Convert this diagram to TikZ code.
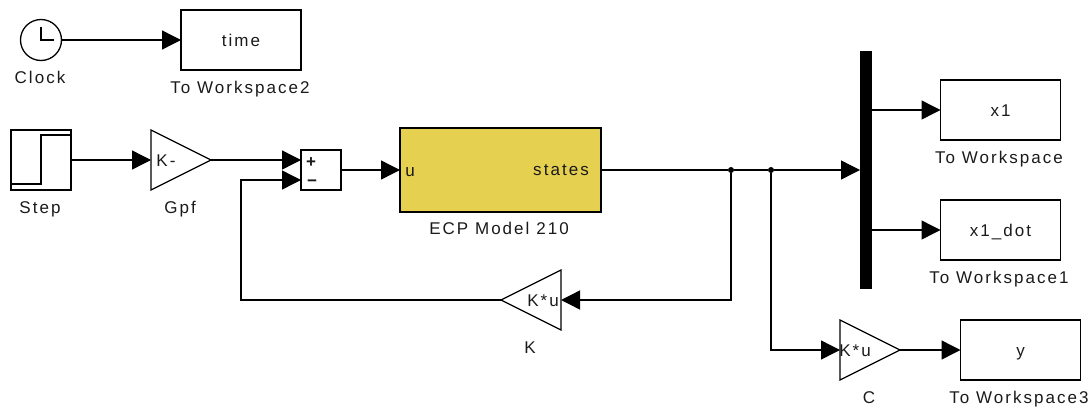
\documentclass[tikz,border=0pt]{standalone}
\usepackage{fontspec}
\setmainfont[LetterSpace=12]{Liberation Sans}
\usetikzlibrary{arrows.meta}
\definecolor{ecpgold}{HTML}{E6D04F}
\definecolor{ink}{HTML}{1A1A1A}
\tikzset{
  x=1pt,y=-1pt,
  every node/.style={font=\fontsize{17}{19}\selectfont,text=ink,inner sep=0pt,outer sep=0pt,text height=12pt,text depth=0pt},
  block/.style={draw=black,line width=1.5pt,minimum width=#1,minimum height=60pt},
  block/.default=120pt,
  gainbox/.style={minimum width=60pt,minimum height=60pt},
  gainshape/.style={draw=black,line width=1.2pt,line join=miter},
  wire/.style={draw=black,line width=1.4pt},
  sig/.style={wire,-{Triangle[length=19pt,width=19pt,fill=black]}},
  junction/.style={circle,fill=black,minimum size=6pt,text height=0pt},
  txt/.style={anchor=center}
}
\begin{document}
\begin{tikzpicture}
\useasboundingbox (0,0) rectangle (1089,407);
% blocks
\node[circle,draw=black,line width=1.3pt,minimum size=41pt,text height=0pt] (clock) at (41,40) {};
\draw[line width=1.3pt] (41,27) -- (41,40) -- (54,40);
\node[block] (time) at (241,40) {time};
\node[txt] at (40,77) (clocklbl) {Clock};
\node[txt] at (240,87) (tw2lbl) {To Workspace2};
\node[block=60pt] (step) at (41,160) {};
\draw[line width=1.3pt] (11,184) -- (41,184) -- (41,135) -- (71,135);
\node[txt] at (40,207) (steplbl) {Step};
\node[gainbox] (gpf) at (181,160) {};
\draw[gainshape] (gpf.north west) -- (gpf.east) -- (gpf.south west) -- cycle;
\node[txt] at (166,160) (gpftxt) {K-};
\node[txt] at (180,207) (gpflbl) {Gpf};
\node[block=40pt,minimum height=40pt,line width=1.3pt] (sum) at (321,170) {};
\coordinate (sumA) at (sum.west |- 0,160);
\coordinate (sumB) at (sum.west |- 0,180);
\node[txt,font=\fontsize{17}{19}\selectfont\bfseries] at (311,161) (plus) {+};
\node[txt,font=\fontsize{17}{19}\selectfont\bfseries] at (312,180) (minus) {−};
\node[block=201pt,minimum height=84pt,fill=ecpgold] (ecp) at (500.5,170) {};
\node[txt] at (410,170) (u) {u};
\node[txt] at (561,169) (states) {states};
\node[txt] at (499,228) (ecplbl) {ECP Model 210};
\node[gainbox] (k) at (531,300) {};
\draw[gainshape] (k.north east) -- (k.west) -- (k.south east) -- cycle;
\node[txt] at (543,300) (ktxt) {K*u};
\node[txt] at (530,347) (klbl) {K};
\node[minimum width=12pt,minimum height=238pt,fill=black,text height=0pt] (bus) at (866,169.5) {};
\node[block] (x1) at (1000.5,110) {x1};
\node[txt] at (999,157) (twlbl) {To Workspace};
\node[block] (x1dot) at (1000.5,230) {x1\_dot};
\node[txt] at (999,277) (tw1lbl) {To Workspace1};
\node[gainbox] (c) at (870,350) {};
\draw[gainshape] (c.north west) -- (c.east) -- (c.south west) -- cycle;
\node[txt] at (855,350) (ctxt) {K*u};
\node[txt] at (869,397) (clbl) {C};
\node[block] (y) at (1020.5,350) {y};
\node[txt] at (1019,397) (tw3lbl) {To Workspace3};
% junctions
\node[junction] (j1) at (731,170) {};
\node[junction] (j2) at (771,170) {};
% connectors
\draw[sig] (clock.east) -- (time.west);
\draw[sig] (step.east) -- (gpf.west);
\draw[sig] (gpf.east) -- (sumA);
\draw[sig] (sum.east) -- (ecp.west);
\draw[wire] (ecp.east) -- (j1);
\draw[wire] (j1) -- (j2);
\draw[sig] (j2) -- (bus.west |- j2);
\draw[sig] (j1) |- (k.east);
\draw[sig] (k.west) -| (241,180) -- (sumB);
\draw[sig] (j2) |- (c.west);
\draw[sig] (c.east) -- (y.west);
\draw[sig] (bus.east |- x1) -- (x1.west);
\draw[sig] (bus.east |- x1dot) -- (x1dot.west);
\end{tikzpicture}
\end{document}
